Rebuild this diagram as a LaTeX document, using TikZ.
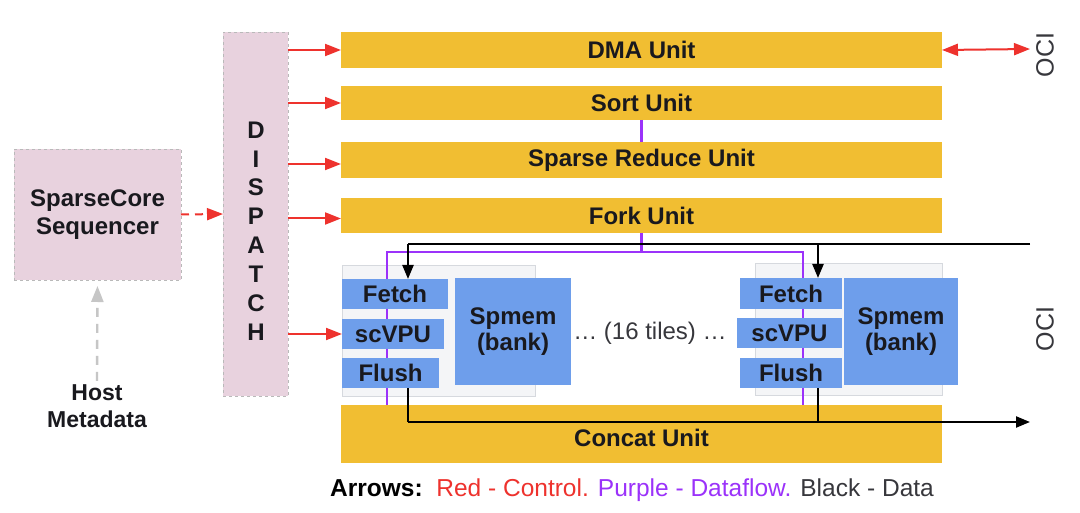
\documentclass[tikz,border=0pt]{standalone}
\usepackage{fontspec}
\setmainfont{Liberation Sans}
\usetikzlibrary{arrows.meta}
\definecolor{gold}{RGB}{241,190,50}
\definecolor{pinkbox}{RGB}{232,210,222}
\definecolor{blu}{RGB}{110,158,235}
\definecolor{ctrlred}{RGB}{238,50,45}
\definecolor{purp}{RGB}{155,50,250}
\definecolor{tilebg}{RGB}{244,245,247}
\definecolor{tileedge}{RGB}{214,217,222}
\definecolor{txt}{RGB}{25,25,30}
\definecolor{dgray}{RGB}{55,55,60}
\begin{document}
\begin{tikzpicture}[x=1pt,y=-1pt,
  box/.style={anchor=north west, inner sep=0pt, outer sep=0pt, align=center},
  unit/.style={box, fill=gold, font=\fontsize{24}{28}\selectfont\bfseries, text=txt, minimum width=601pt},
  pinkb/.style={box, fill=pinkbox, draw=gray!55, dashed, line width=0.9pt},
  blk/.style={box, fill=blu, font=\fontsize{24}{26}\selectfont\bfseries, text=txt},
  tilebox/.style={box, fill=tilebg, draw=tileedge, line width=0.8pt},
  tip/.style={-{Triangle[length=14pt,width=11pt]}},
  rtip/.style={-{Triangle[length=16pt,width=12pt]}},
  ctrl/.style={draw=ctrlred, line width=2pt, rtip},
  flow/.style={draw=purp, line width=2.2pt},
  data/.style={draw=black, line width=2.2pt},
]
\useasboundingbox (0,0) rectangle (1080,513);
\fill[white] (0,0) rectangle (1080,513);

% left side
\node[pinkb, minimum width=167pt, minimum height=131pt, font=\fontsize{24}{28}\selectfont\bfseries, text=txt] (seq) at (14,149) {SparseCore\\Sequencer};
\node[pinkb, minimum width=65pt, minimum height=364pt] (disp) at (223,32) {};
\node[font=\fontsize{24}{28.9}\selectfont\bfseries, align=center, text=txt, inner sep=0pt] (dtext) at (256,231) {D\\I\\S\\P\\A\\T\\C\\H};
\node[font=\fontsize{23}{27}\selectfont\bfseries, align=center, text=txt] (host) at (97,406) {Host\\Metadata};

% units
\node[unit, minimum height=36pt] (dma) at (341,32) {DMA Unit};
\node[unit, minimum height=34pt] (sort) at (341,86) {Sort Unit};
\node[unit, minimum height=36pt] (sred) at (341,142) {Sparse Reduce Unit};
\node[unit, minimum height=35pt] (fork) at (341,198) {Fork Unit};
\node[unit, minimum height=58pt] (concat) at (341,405) {\raisebox{-3.5pt}[\height][\depth]{Concat Unit}};

% tile backgrounds
\node[tilebox, minimum width=193pt, minimum height=131pt] (ltile) at (342,265) {};
\node[tilebox, minimum width=187pt, minimum height=132pt] (rtile) at (755,263) {};

% purple dataflow
\coordinate (pl) at (387,252);
\coordinate (pr) at (803,252);
\draw[flow] (sort.south) -- (sred.north);
\draw[flow] (fork.south) -- (fork.south |- pl);
\draw[flow] (pl |- concat.north) -- (pl) -- (pr) -- (pr |- concat.north);

% blue blocks
\node[blk, minimum width=106pt, minimum height=30pt] (lfetch) at (342,279) {Fetch};
\node[blk, minimum width=102pt, minimum height=30pt] (lvpu) at (342,319) {scVPU};
\node[blk, minimum width=97pt, minimum height=30pt] (lflush) at (342,358) {Flush};
\node[blk, minimum width=116pt, minimum height=107pt] (lspm) at (455,278) {Spmem\\(bank)};
\node[blk, minimum width=102pt, minimum height=31pt] (rfetch) at (740,278) {Fetch};
\node[blk, minimum width=105pt, minimum height=30pt] (rvpu) at (737,318) {scVPU};
\node[blk, minimum width=102pt, minimum height=30pt] (rflush) at (740,358) {Flush};
\node[blk, minimum width=114pt, minimum height=107pt] (rspm) at (844,278) {Spmem\\(bank)};
\node[font=\fontsize{24}{26}\selectfont, text=dgray] (tiles) at (650,333) {\dots\ (16 tiles) \dots};

% OCI labels
\node[rotate=90, font=\fontsize{25}{25}\selectfont, text=dgray] (oci1) at (1045,55) {OCI};
\node[rotate=90, font=\fontsize{25}{25}\selectfont, text=dgray] (oci2) at (1045,329) {OCI};
\coordinate (ocia) at (1030,49);
\coordinate (ociin) at (1030,244);
\coordinate (ociout) at (1030,422);

% control arrows
\draw[ctrl, dash pattern=on 8pt off 6pt] (seq.east) -- (disp.west);
\draw[draw=gray!45, line width=2.4pt, dash pattern=on 9pt off 7pt, rtip, shorten >=6pt] (host.north) -- (seq.south);
\draw[ctrl] (disp.east |- dma.west) -- (dma.west);
\draw[ctrl] (disp.east |- sort.west) -- (sort.west);
\draw[ctrl] ([yshift=-4pt]disp.east |- sred.west) -- ([yshift=-4pt]sred.west);
\draw[ctrl] ([yshift=-3pt]disp.east |- fork.west) -- ([yshift=-3pt]fork.west);
\draw[ctrl] (disp.east |- lvpu.west) -- (lvpu.west);
\draw[ctrl, {Triangle[length=16pt,width=12pt]}-{Triangle[length=16pt,width=12pt]}] (dma.east) -- (ocia);

% black data
\coordinate (jl) at (408,244);
\coordinate (jr) at (818,244);
\coordinate (bl) at (408,422);
\coordinate (br) at (818,422);
\draw[data] (ociin) -- (jl);
\draw[data, tip] (jl) -- (jl |- lfetch.north);
\draw[data, tip] (jr) -- (jr |- rfetch.north);
\draw[data] (bl |- lflush.south) -- (bl);
\draw[data] (br |- rflush.south) -- (br);
\draw[data, tip] (bl) -- (ociout);

% legend
\node[anchor=west, inner sep=0pt, font=\fontsize{24.5}{24.5}\selectfont] (legend) at (330,490) {\textbf{Arrows:}\ \ \textcolor{ctrlred}{Red - Control.} \textcolor{purp}{Purple - Dataflow.} \textcolor{dgray}{Black - Data}};
\end{tikzpicture}
\end{document}
